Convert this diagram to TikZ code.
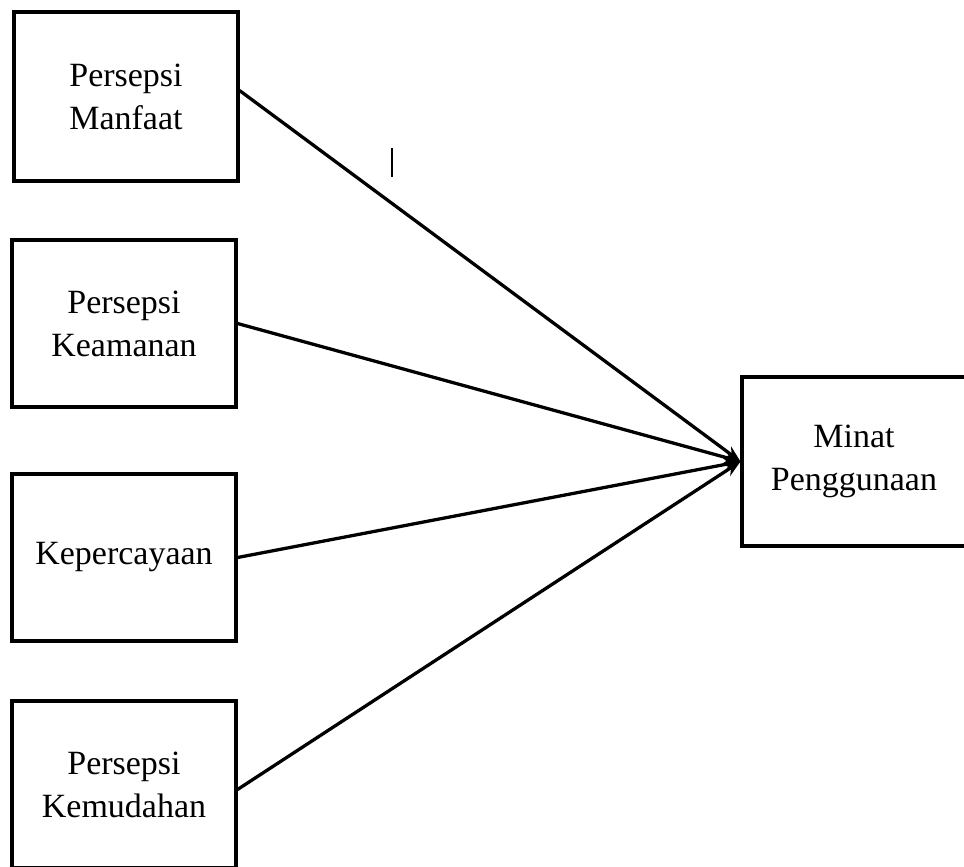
\documentclass[tikz,border=0pt]{standalone}
\usepackage{fontspec}
\setmainfont{Liberation Serif}
\usetikzlibrary{arrows.meta}
\begin{document}
\begin{tikzpicture}[x=0.03cm,y=-0.03cm,
  box/.style={draw=black, line width=2.6pt, minimum width=224*0.03cm, minimum height=167*0.03cm,
    align=center, inner sep=0pt, font=\fontsize{29pt}{36.7pt}\selectfont},
  conn/.style={line width=2.8pt, -{Stealth[length=14pt,width=11pt]}}]
\useasboundingbox (0,0) rectangle (964,866);
\clip (0,0) rectangle (964,866);
\node[box, minimum height=169*0.03cm] (b1) at (126,96.5) {Persepsi\\Manfaat};
\node[box] (b2) at (124,323.5) {Persepsi\\Keamanan};
\node[box] (b3) at (124,557.5) {Kepercayaan};
\node[box] (b4) at (124,784.5) {Persepsi\\Kemudahan};
\node[box, minimum height=169*0.03cm] (m) at (854,461.5) {Minat\\Penggunaan};
\draw[conn] ([yshift=0.18cm]b1.east) -- (m.west);
\draw[conn] (b2.east) -- (m.west);
\draw[conn] (b3.east) -- (m.west);
\draw[conn] ([yshift=-0.15cm]b4.east) -- (m.west);
\coordinate (c1) at (392,148);
\coordinate (c2) at (392,177);
\draw[line width=1.3pt] (c1) -- (c2);
\end{tikzpicture}
\end{document}
